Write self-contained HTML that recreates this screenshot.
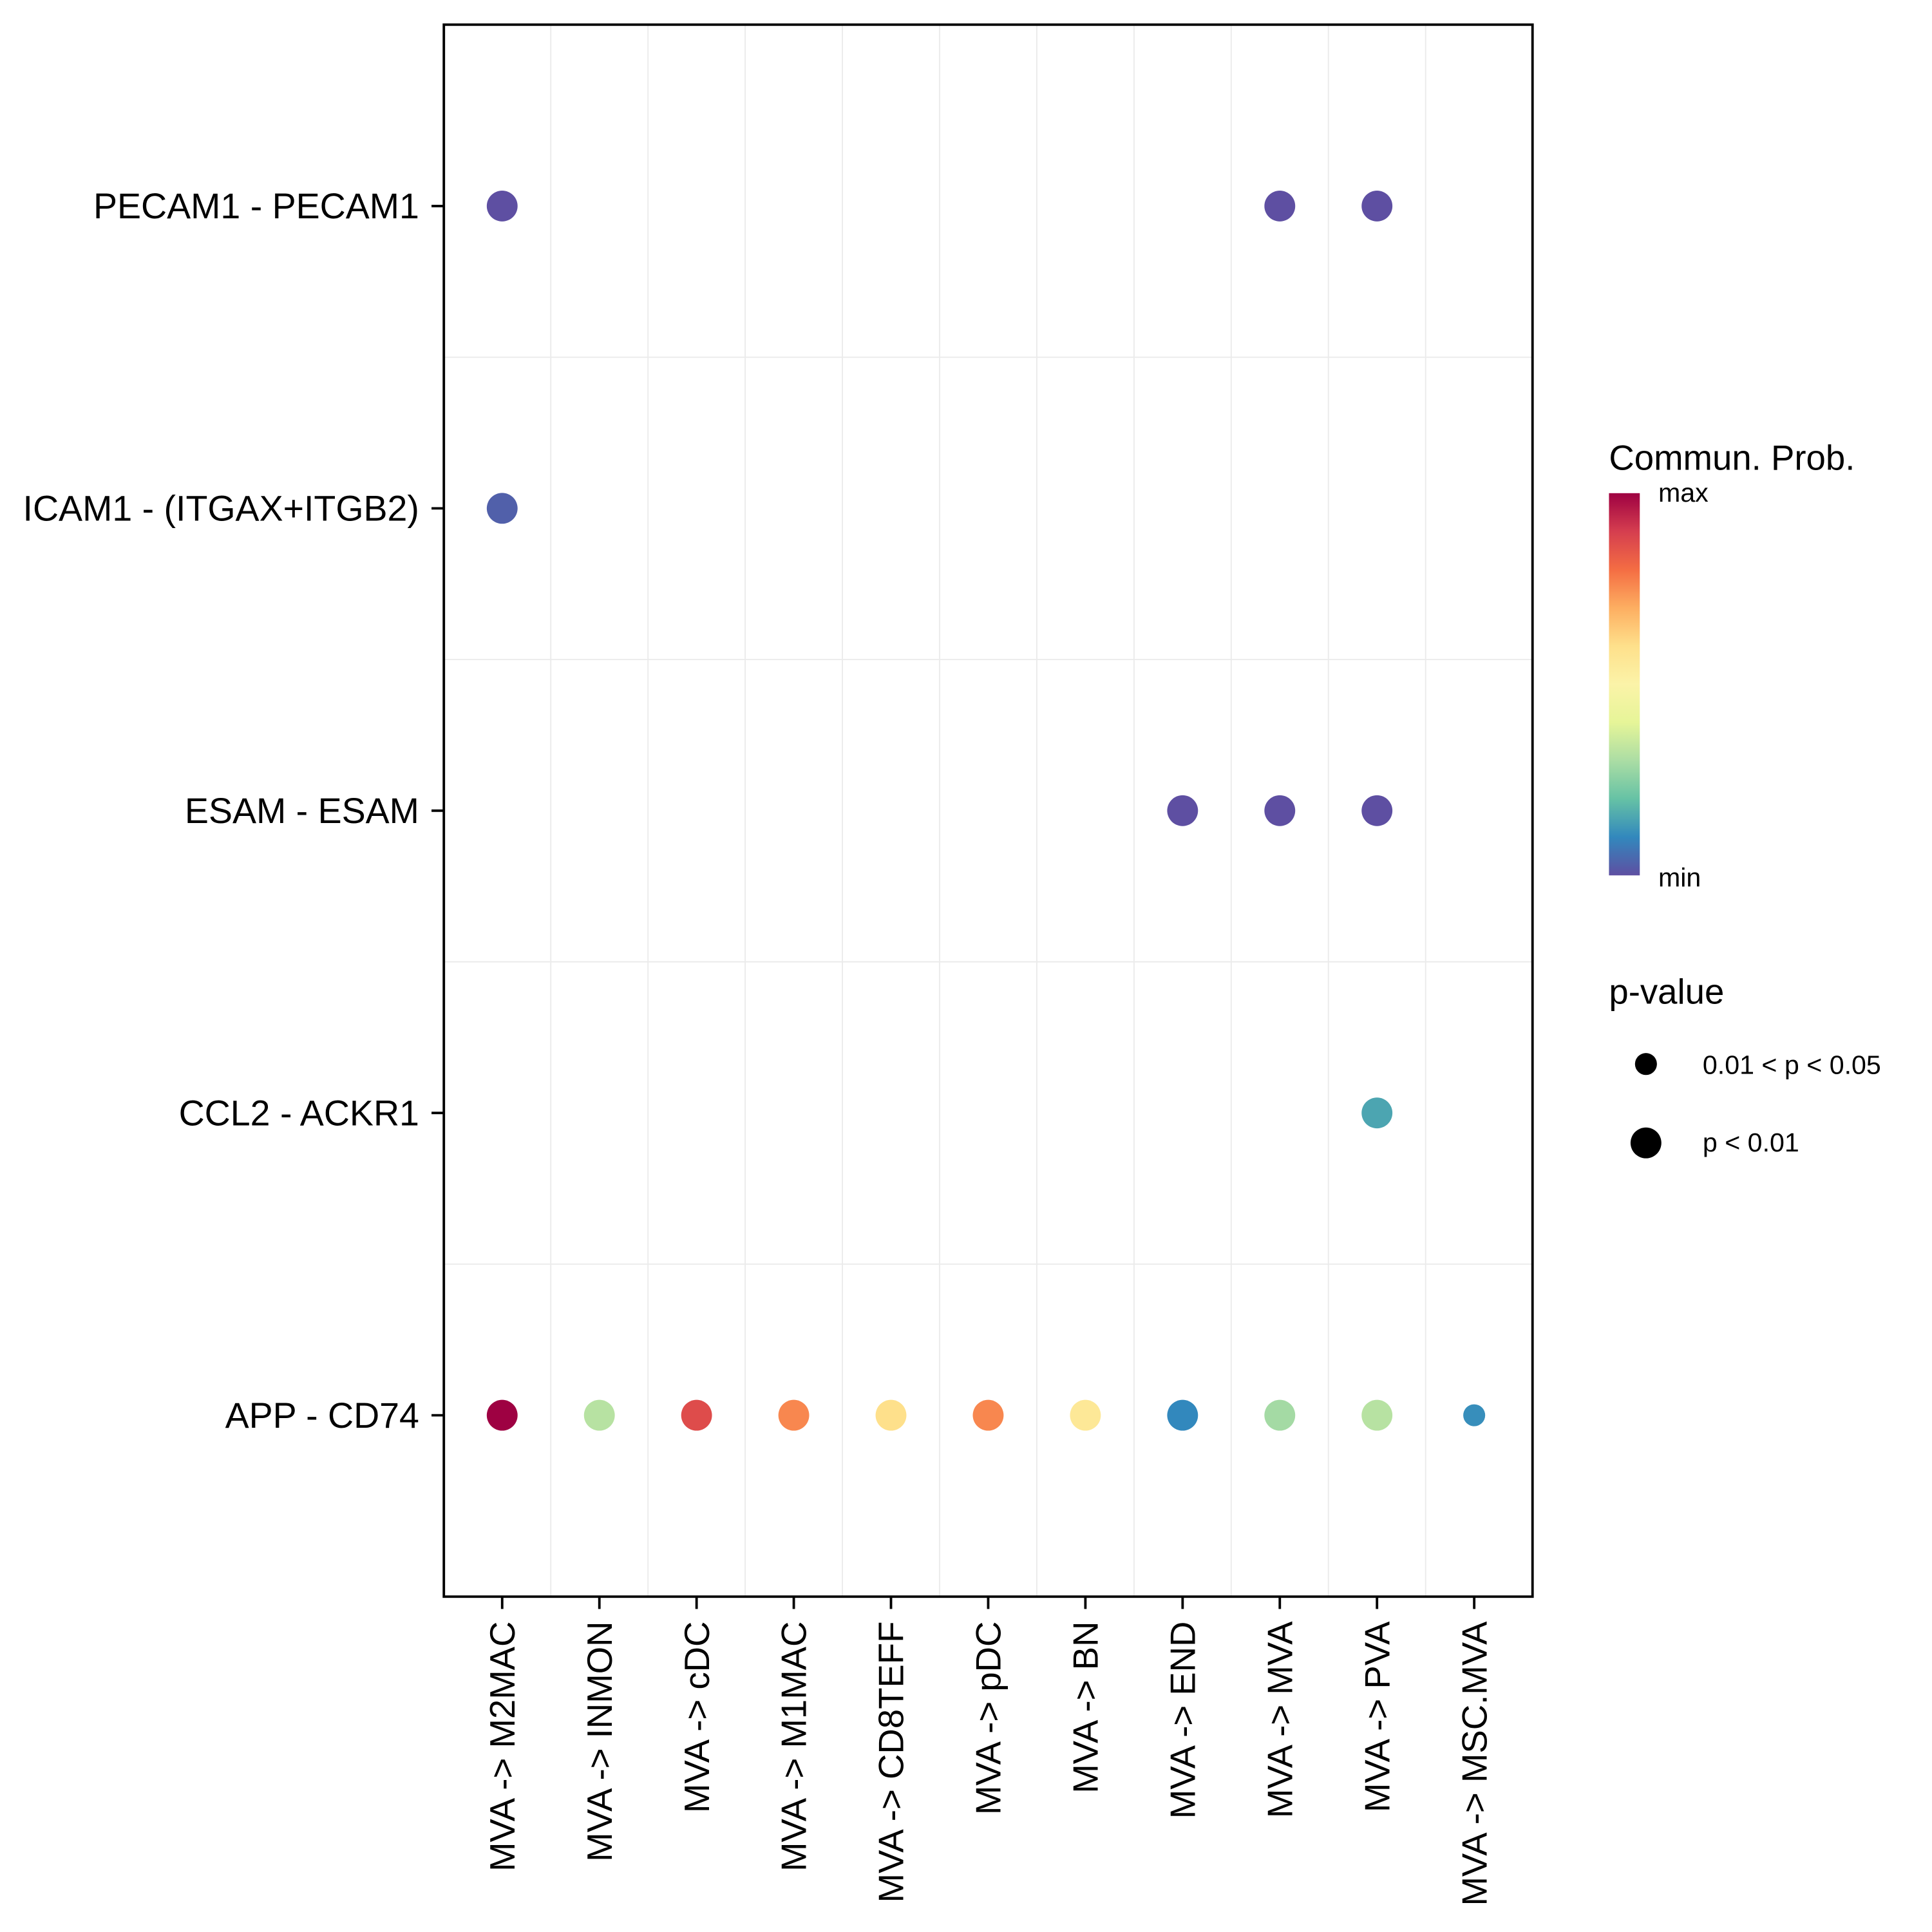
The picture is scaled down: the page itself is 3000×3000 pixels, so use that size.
<!DOCTYPE html>
<html><head><meta charset="utf-8"><style>
html,body{margin:0;padding:0;background:#fff;}
svg{display:block;font-family:"Liberation Sans",Arial,sans-serif;}
</style></head><body>
<svg id="chart" width="3000" height="3000" viewBox="0 0 1567 1567" xmlns="http://www.w3.org/2000/svg">
<defs>
<linearGradient id="spec" x1="0" y1="1" x2="0" y2="0">
<stop offset="0" stop-color="#5e4fa2"/><stop offset="0.1" stop-color="#3288bd"/><stop offset="0.2" stop-color="#66c2a5"/><stop offset="0.3" stop-color="#abdda4"/><stop offset="0.4" stop-color="#e6f598"/><stop offset="0.5" stop-color="#fbf3a8"/><stop offset="0.6" stop-color="#fee08b"/><stop offset="0.7" stop-color="#fdae61"/><stop offset="0.8" stop-color="#f46d43"/><stop offset="0.9" stop-color="#d53e4f"/><stop offset="1" stop-color="#9e0142"/>
</linearGradient>
</defs>
<g id="grid"></g>
<g id="points"></g>
<rect x="360" y="20" width="883" height="1275" fill="none" stroke="#000" stroke-width="2"/>
<g id="yaxis"></g>
<g id="xaxis"></g>
<g>
<text x="1305" y="381" font-size="28.5">Commun. Prob.</text>
<rect x="1305" y="400" width="25" height="310" fill="url(#spec)"/>
<text x="1345" y="407" font-size="21.5">max</text>
<text x="1345" y="719" font-size="21.5">min</text>
</g>
<g>
<text x="1305" y="814" font-size="28.5">p-value</text>
<circle cx="1335" cy="863" r="8.9" fill="#000"/>
<text x="1381" y="871" font-size="21.5">0.01 &lt; p &lt; 0.05</text>
<circle cx="1335" cy="927" r="12.5" fill="#000"/>
<text x="1381" y="934" font-size="21.5">p &lt; 0.01</text>
</g>
</svg>
<script>
const xCategories = ["MVA -> M2MAC","MVA -> INMON","MVA -> cDC","MVA -> M1MAC","MVA -> CD8TEFF","MVA -> pDC","MVA -> BN","MVA -> END","MVA -> MVA","MVA -> PVA","MVA -> MSC.MVA"];
const yCategories = ["PECAM1 - PECAM1","ICAM1 - (ITGAX+ITGB2)","ESAM - ESAM","CCL2 - ACKR1","APP - CD74"];
const pointX = ["MVA -> M2MAC","MVA -> MVA","MVA -> PVA","MVA -> M2MAC","MVA -> END","MVA -> MVA","MVA -> PVA","MVA -> PVA","MVA -> M2MAC","MVA -> INMON","MVA -> cDC","MVA -> M1MAC","MVA -> CD8TEFF","MVA -> pDC","MVA -> BN","MVA -> END","MVA -> MVA","MVA -> PVA","MVA -> MSC.MVA"];
const pointY = ["PECAM1 - PECAM1","PECAM1 - PECAM1","PECAM1 - PECAM1","ICAM1 - (ITGAX+ITGB2)","ESAM - ESAM","ESAM - ESAM","ESAM - ESAM","CCL2 - ACKR1","APP - CD74","APP - CD74","APP - CD74","APP - CD74","APP - CD74","APP - CD74","APP - CD74","APP - CD74","APP - CD74","APP - CD74","APP - CD74"];
const probValues = [0.0,0.0,0.0,0.03,0.0,0.0,0.0,0.15,1.0,0.32,0.87,0.76,0.6,0.76,0.56,0.1,0.29,0.32,0.11];
const pLevels = [1,1,1,1,1,1,1,1,1,1,1,1,1,1,1,1,1,1,0];
const spectral = ["#5e4fa2","#3288bd","#66c2a5","#abdda4","#e6f598","#fbf3a8","#fee08b","#fdae61","#f46d43","#d53e4f","#9e0142"];
const NS="http://www.w3.org/2000/svg";
const L=360,R=1243,T=20,B=1295;
function xScale(c){const i=xCategories.indexOf(c);const s=(R-L)/(xCategories.length-1+1.2);return L+0.6*s+i*s;}
function yScale(c){const i=yCategories.indexOf(c);const s=(B-T)/(yCategories.length-1+1.2);return T+0.6*s+i*s;}
function colorOf(v){const t=Math.max(0,Math.min(1,v))*(spectral.length-1);const i=Math.min(Math.floor(t),spectral.length-2);const f=t-i;
 const a=spectral[i],b=spectral[i+1];const p=k=>parseInt(a.substr(k,2),16),q=k=>parseInt(b.substr(k,2),16);
 const m=k=>Math.round(p(k)+(q(k)-p(k))*f);return `rgb(${m(1)},${m(3)},${m(5)})`;}
function mk(tag,attrs,parent){const e=document.createElementNS(NS,tag);for(const k in attrs)e.setAttribute(k,attrs[k]);parent.appendChild(e);return e;}
const grid=document.getElementById('grid'),pts=document.getElementById('points'),ya=document.getElementById('yaxis'),xa=document.getElementById('xaxis');
for(let i=0;i<xCategories.length-1;i++){const x=(xScale(xCategories[i])+xScale(xCategories[i+1]))/2;
 const l=mk('line',{x1:x,x2:x,y1:T,y2:B,stroke:'#ebebeb','stroke-width':1},grid);
 
 }
for(let i=0;i<yCategories.length-1;i++){const y=(yScale(yCategories[i])+yScale(yCategories[i+1]))/2;
 const l=mk('line',{x1:L,x2:R,y1:y,y2:y,stroke:'#ebebeb','stroke-width':1},grid);
 
 }
yCategories.forEach(c=>{const y=yScale(c);
 const t=mk('line',{x1:L-10,x2:L,y1:y,y2:y,stroke:'#000','stroke-width':2},ya);
 
 
 const tx=mk('text',{x:L-20,y:y+10,'font-size':29,'text-anchor':'end'},ya);
 tx.textContent=c;
 
 });
xCategories.forEach(c=>{const x=xScale(c);
 const t=mk('line',{x1:x,x2:x,y1:B,y2:B+10,stroke:'#000','stroke-width':2},xa);
 
 
 const tx=mk('text',{x:0,y:0,'font-size':28.5,'text-anchor':'end',transform:`translate(${x+10},${B+20}) rotate(-90)`},xa);
 tx.textContent=c;
 
 });
probValues.forEach((v,i)=>{
 const c=mk('circle',{cx:xScale(pointX[i]),cy:yScale(pointY[i]),r:pLevels[i]?12.5:8.9,fill:colorOf(v)},pts);
 
 });
</script>
</body></html>
